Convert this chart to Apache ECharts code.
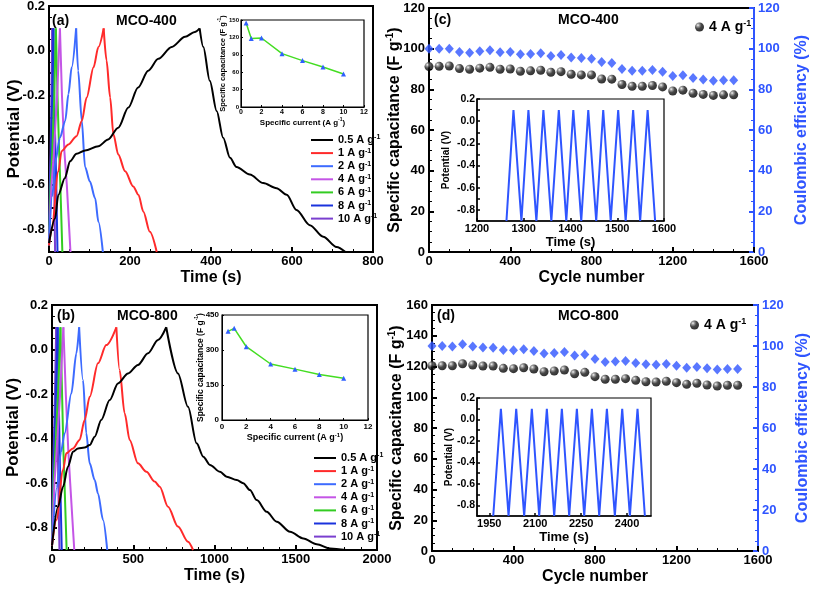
<!DOCTYPE html>
<html><head><meta charset="utf-8">
<script src="https://cdn.jsdelivr.net/npm/echarts@6/dist/echarts.min.js"></script>
<style>html,body{margin:0;padding:0;background:#fff}#c{width:813px;height:591px}</style>
</head><body><div id="c"></div>
<script>
// ================= DATA =================
const rateLabels = ['0.5', '1', '2', '4', '6', '8', '10'];
// Panel (a) MCO-400 galvanostatic charge/discharge curves (time s, potential V)
const a05_t = [0, 15, 23, 39, 52, 68, 89, 122, 146, 171, 196, 220, 245, 270, 303, 336, 360, 372, 381, 397, 414, 430, 447, 463, 496, 529, 562, 587, 611, 644, 677, 710, 732];
const a05_v = [-0.86, -0.75, -0.645, -0.57, -0.494, -0.461, -0.446, -0.427, -0.397, -0.344, -0.254, -0.164, -0.089, -0.036, 0.017, 0.062, 0.084, 0.1, 0.017, -0.134, -0.269, -0.389, -0.479, -0.52, -0.554, -0.592, -0.615, -0.644, -0.712, -0.78, -0.832, -0.878, -0.9];
const a1_t = [0, 7, 23, 31, 48, 68, 81, 93, 110, 122, 135, 142, 151, 159, 171, 188, 208, 221, 233, 249, 266];
const a1_v = [-0.87, -0.795, -0.54, -0.449, -0.419, -0.382, -0.314, -0.209, -0.074, 0.017, 0.1, -0.043, -0.209, -0.374, -0.464, -0.539, -0.607, -0.645, -0.72, -0.81, -0.9];
const a2_t = [0, 8, 16, 27, 40, 48, 56, 67, 72, 81, 89, 101, 114, 122, 133];
const a2_v = [-0.86, -0.65, -0.49, -0.389, -0.314, -0.194, -0.074, 0.1, -0.089, -0.314, -0.52, -0.585, -0.66, -0.765, -0.9];
const a4_t = [0, 6, 12, 20, 27, 32, 38, 44, 53];
const a6_t = [0, 4, 8, 13, 17, 21, 25, 28, 33];
const a8_t = [0, 3, 5, 8, 11, 13, 16, 18, 21];
const a10_t = [0, 2, 4, 6, 8, 10, 12, 13, 15];
const fast_v = [-0.87, -0.6, -0.46, -0.2, 0.1, -0.2, -0.45, -0.6, -0.9];

// Panel (b) MCO-800
const b05_t = [0, 37, 68, 98, 129, 160, 201, 232, 263, 303, 355, 406, 468, 529, 591, 652, 703, 775, 837, 890, 931, 972, 1034, 1075, 1137, 1177, 1218, 1260, 1321, 1383, 1465, 1547, 1629, 1711, 1810];
const b05_v = [-0.88, -0.706, -0.616, -0.526, -0.459, -0.444, -0.44, -0.429, -0.391, -0.316, -0.227, -0.152, -0.107, -0.069, -0.017, 0.043, 0.1, -0.107, -0.257, -0.421, -0.481, -0.518, -0.549, -0.571, -0.586, -0.6, -0.631, -0.676, -0.728, -0.773, -0.818, -0.848, -0.874, -0.893, -0.9];
const b1_t = [0, 27, 68, 88, 129, 170, 201, 232, 283, 334, 396, 416, 447, 478, 529, 581, 632, 663, 714, 775, 837, 868];
const b1_v = [-0.88, -0.765, -0.541, -0.466, -0.444, -0.406, -0.316, -0.212, -0.062, 0.02, 0.1, -0.092, -0.286, -0.406, -0.511, -0.549, -0.593, -0.616, -0.706, -0.795, -0.863, -0.9];
const b2_t = [0, 30, 55, 78, 119, 150, 167, 191, 211, 232, 263, 283, 314, 340];
const b2_v = [-0.88, -0.62, -0.46, -0.376, -0.197, -0.017, 0.1, -0.137, -0.376, -0.511, -0.586, -0.646, -0.765, -0.9];
const b4_t = [0, 15, 28, 50, 70, 85, 100, 112, 137];
const b6_t = [0, 10, 20, 37, 52, 62, 70, 77, 90];
const b8_t = [0, 7, 13, 24, 35, 41, 47, 51, 60];
const b10_t = [0, 5, 10, 18, 26, 31, 36, 39, 46];
const fastb_v = [-0.88, -0.6, -0.46, -0.2, 0.1, -0.2, -0.45, -0.6, -0.9];

// Insets: specific capacitance vs specific current
const currents = [0.5, 1, 2, 4, 6, 8, 10];
const capA = [145, 118, 119, 92, 80, 69, 57];
const capB = [380, 393, 314, 240, 218, 195, 179];

// Cycling (c) and (d)
const cycles = [0, 50, 100, 150, 200, 250, 300, 350, 400, 450, 500, 550, 600, 650, 700, 750, 800, 850, 900, 950, 1000, 1050, 1100, 1150, 1200, 1250, 1300, 1350, 1400, 1450, 1500];
const capC = [91.2, 91.3, 91.5, 90.2, 89.9, 90.4, 90.8, 89.9, 90.0, 88.9, 89.1, 89.4, 88.4, 88.7, 87.4, 87.1, 87.1, 85.1, 85.0, 82.4, 81.5, 81.5, 81.9, 81.2, 79.2, 79.6, 78.1, 77.5, 77.0, 77.3, 77.3];
const ceC = [100, 100, 100, 98.4, 98.0, 98.7, 99.2, 98.2, 98.4, 97.2, 97.4, 97.7, 96.4, 96.9, 95.6, 95.4, 95.1, 93.5, 93.0, 90.0, 89.1, 89.1, 89.5, 88.7, 86.6, 86.9, 85.6, 84.8, 84.2, 84.5, 84.5];
const capD = [120.5, 120.5, 120.5, 121.8, 121.0, 120.3, 120.3, 118.8, 118.6, 119.2, 118.4, 116.6, 117.1, 117.7, 115.3, 116.2, 113.4, 111.7, 111.7, 112.1, 111.0, 110.1, 109.9, 110.4, 109.5, 108.4, 109.1, 108.0, 107.3, 107.8, 107.8];
const ceD = [100, 100, 99.7, 100.8, 99.8, 99.3, 99.2, 98.0, 97.9, 98.4, 97.6, 96.3, 96.6, 97.1, 95.4, 95.9, 93.7, 92.2, 92.4, 92.7, 91.7, 91.1, 90.9, 91.2, 90.4, 89.4, 89.8, 89.1, 88.5, 88.8, 88.8];

// Inset GCD cycles
const cin_t = [1263, 1278, 1295, 1310, 1327, 1342, 1359, 1375, 1391, 1406, 1423, 1438, 1455, 1470, 1486, 1502, 1518, 1534, 1549, 1565, 1581];
const din_t = [1963, 1988, 2013, 2038, 2064, 2089, 2113, 2138, 2162, 2187, 2211, 2236, 2260, 2285, 2309, 2334, 2360, 2384, 2409, 2434, 2458];
const zig_v = [-0.9, 0.1, -0.9, 0.1, -0.9, 0.1, -0.9, 0.1, -0.9, 0.1, -0.9, 0.1, -0.9, 0.1, -0.9, 0.1, -0.9, 0.1, -0.9, 0.1, -0.9];

const dTicks = [1950, 2100, 2250, 2400];

// ================= STYLE =================
const FF = 'Liberation Sans';
const BLUE = '#2f55ff';
const COLORS = ['#000000', '#ff2a2a', '#3d6bff', '#c455e6', '#33cc22', '#1a33dd', '#7a3fcf'];
function tx(size, color) { return { fontFamily: FF, fontWeight: 'bold', fontSize: size, color: color || '#000' }; }
function supRich(size, color) {
  return { m: Object.assign(tx(size, color), { lineHeight: size + 3 }),
           s: Object.assign(tx(Math.round(size * 0.62), color), { verticalAlign: 'top', lineHeight: Math.round(size * 0.62) }) };
}
const zip = (a, b) => a.map((v, i) => [v, b[i]]);
const gcdFmt = v => (Math.round(v * 10) % 2 === 0 ? v.toFixed(1) : '');
const plainFmt = v => String(Math.round(v * 1000) / 1000);

function axis(o) {
  const color = o.color || '#000';
  const a = {
    type: 'value', gridIndex: o.grid, min: o.min, max: o.max, position: o.pos,
    axisLine: { show: true, onZero: false, lineStyle: { color, width: o.lw || 2 } },
    axisTick: { show: true, inside: true, length: o.tl || 5, lineStyle: { color, width: o.lw || 2 } },
    minorTick: { show: !!o.minor, splitNumber: o.minor || 2, length: (o.tl || 5) * 0.6, lineStyle: { color, width: 1 } },
    axisLabel: Object.assign(tx(o.fs, color), { margin: o.margin || 4, formatter: o.fmt || plainFmt, showMinLabel: true, showMaxLabel: true }),
    splitLine: { show: false },
    name: o.name || '', nameLocation: 'middle', nameGap: o.gap || 20, nameMoveOverlap: false,
    nameRotate: o.rot,
    nameTextStyle: o.rich ? Object.assign(tx(o.nfs, color), { rich: supRich(o.nfs, color) }) : tx(o.nfs, color)
  };
  if (o.interval) a.interval = o.interval;
  if (o.ticks) { a.axisLabel.customValues = o.ticks; a.axisTick.customValues = o.ticks; }
  return a;
}
const capName = '{m|Specific capacitance (F g}{s|-1}{m|)}';
const curName = '{m|Specific current (A g}{s|-1}{m|)}';

// ================= LAYOUT =================
const grids = [
  { left: 49, top: 6, width: 324, height: 246 },   // 0 a main
  { left: 241, top: 20, width: 123, height: 87 },  // 1 a inset
  { left: 429, top: 8, width: 325, height: 244 },  // 2 c main
  { left: 477, top: 99, width: 187, height: 122 }, // 3 c inset
  { left: 52, top: 305, width: 325, height: 245 }, // 4 b main
  { left: 222, top: 315, width: 146, height: 105 },// 5 b inset
  { left: 432, top: 305, width: 326, height: 246 },// 6 d main
  { left: 477, top: 398, width: 174, height: 118 } // 7 d inset
].map((g, i) => Object.assign(g, { show: true, borderColor: '#000', borderWidth: (i % 2 === 0) ? 2 : 1.2, backgroundColor: '#fff', containLabel: false, outerBoundsMode: 'none' }));

const xAxes = [
  axis({ grid: 0, min: 0, max: 800, interval: 200, minor: 4, fs: 13, margin: 3, name: 'Time (s)', nfs: 16, gap: 18 }),
  axis({ grid: 1, min: 0, max: 12, interval: 2, fs: 7, lw: 1, tl: 2, margin: 2, name: curName, rich: true, nfs: 8, gap: 10 }),
  axis({ grid: 2, min: 0, max: 1600, interval: 400, minor: 4, fs: 13, margin: 3, name: 'Cycle number', nfs: 16, gap: 18 }),
  axis({ grid: 3, min: 1200, max: 1600, interval: 100, fs: 11, lw: 1.5, tl: 3, margin: 2, name: 'Time (s)', nfs: 13, gap: 15 }),
  axis({ grid: 4, min: 0, max: 2000, interval: 500, minor: 5, fs: 13, margin: 3, name: 'Time (s)', nfs: 16, gap: 18 }),
  axis({ grid: 5, min: 0, max: 12, interval: 2, fs: 8, lw: 1, tl: 2, margin: 3, name: curName, rich: true, nfs: 9, gap: 12 }),
  axis({ grid: 6, min: 0, max: 1600, interval: 400, minor: 4, fs: 13, margin: 3, name: 'Cycle number', nfs: 16, gap: 18 }),
  axis({ grid: 7, min: 1910, max: 2478, ticks: dTicks, fs: 11, lw: 1.5, tl: 3, margin: 2, name: 'Time (s)', nfs: 13, gap: 15 })
];
const yAxes = [
  axis({ grid: 0, min: -0.9, max: 0.2, interval: 0.1, minor: 2, fs: 13, fmt: gcdFmt, margin: 4, name: 'Potential (V)', nfs: 17, gap: 26, rot: 90 }),
  axis({ grid: 1, min: 0, max: 150, interval: 30, fs: 6, lw: 1, tl: 2, margin: 2, name: capName, rich: true, nfs: 7.5, gap: 13, rot: 90 }),
  axis({ grid: 2, min: 0, max: 120, interval: 20, minor: 4, fs: 13, margin: 4, name: capName, rich: true, nfs: 16, gap: 25, rot: 90 }),
  axis({ grid: 2, min: 0, max: 120, interval: 20, minor: 4, fs: 13, margin: 4, pos: 'right', color: BLUE, name: 'Coulombic efficiency (%)', nfs: 16, gap: 40, rot: 90 }),
  axis({ grid: 3, min: -0.9, max: 0.2, interval: 0.1, fs: 10.5, lw: 1.5, tl: 3, margin: 2, fmt: gcdFmt, name: 'Potential (V)', nfs: 10, gap: 26, rot: 90 }),
  axis({ grid: 4, min: -0.9, max: 0.2, interval: 0.1, minor: 2, fs: 13, fmt: gcdFmt, margin: 4, name: 'Potential (V)', nfs: 17, gap: 30, rot: 90 }),
  axis({ grid: 5, min: 0, max: 450, interval: 150, fs: 8, lw: 1, tl: 2, margin: 3, name: capName, rich: true, nfs: 8.5, gap: 16, rot: 90 }),
  axis({ grid: 6, min: 0, max: 160, interval: 20, minor: 4, fs: 13, margin: 4, name: capName, rich: true, nfs: 16, gap: 26, rot: 90 }),
  axis({ grid: 6, min: 0, max: 120, interval: 20, minor: 4, fs: 13, margin: 4, pos: 'right', color: BLUE, name: 'Coulombic efficiency (%)', nfs: 16, gap: 37, rot: 90 }),
  axis({ grid: 7, min: -0.9, max: 0.2, interval: 0.1, fs: 10.5, lw: 1.5, tl: 3, margin: 2, fmt: gcdFmt, name: 'Potential (V)', nfs: 10, gap: 23, rot: 90 })
];

// ================= SERIES =================
const series = [];
function gcd(name, t, v, color, xi, yi, smooth) {
  const pts = zip(t, v);
  let pk = 0; v.forEach((y, i) => { if (y > v[pk]) pk = i; });
  [pts.slice(0, pk + 1), pts.slice(pk)].forEach(d => series.push({
    type: 'line', name, xAxisIndex: xi, yAxisIndex: yi, data: d, showSymbol: false, symbol: 'none',
    smooth: smooth ? 0.3 : false, smoothMonotone: 'x', clip: true, z: 3,
    lineStyle: { color, width: 2 }, itemStyle: { color }
  }));
}
const aT = [a05_t, a1_t, a2_t, a4_t, a6_t, a8_t, a10_t];
const aV = [a05_v, a1_v, a2_v, fast_v, fast_v, fast_v, fast_v];
const bT = [b05_t, b1_t, b2_t, b4_t, b6_t, b8_t, b10_t];
const bV = [b05_v, b1_v, b2_v, fastb_v, fastb_v, fastb_v, fastb_v];
for (let i = 6; i >= 0; i--) {
  gcd('a' + rateLabels[i], aT[i], aV[i], COLORS[i], 0, 0, i < 3);
  gcd('b' + rateLabels[i], bT[i], bV[i], COLORS[i], 4, 5, i < 3);
}
function capSeries(xi, yi, y) {
  series.push({ type: 'line', xAxisIndex: xi, yAxisIndex: yi, data: zip(currents, y), symbol: 'triangle', symbolSize: 5,
    lineStyle: { color: '#44dd22', width: 1.5 }, itemStyle: { color: '#3060ff' }, z: 5 });
}
capSeries(1, 1, capA);
capSeries(5, 6, capB);

const ballColor = { type: 'radial', x: 0.33, y: 0.3, r: 0.7,
  colorStops: [{ offset: 0, color: '#f4f4f4' }, { offset: 0.22, color: '#8a8a8a' }, { offset: 0.55, color: '#1a1a1a' }, { offset: 1, color: '#000' }] };
function cycSeries(name, xi, yl, yr, cap, ce) {
  series.push({ type: 'scatter', name: name, xAxisIndex: xi, yAxisIndex: yr, data: zip(cycles, ce), symbol: 'diamond', symbolSize: [9, 10],
    itemStyle: { color: BLUE }, z: 4 });
  series.push({ type: 'scatter', name: name + 'cap', xAxisIndex: xi, yAxisIndex: yl, data: zip(cycles, cap), symbol: 'circle', symbolSize: 9,
    itemStyle: { color: ballColor }, z: 4 });
}
cycSeries('c', 2, 2, 3, capC, ceC);
cycSeries('d', 6, 7, 8, capD, ceD);
series.push({ type: 'line', xAxisIndex: 3, yAxisIndex: 4, data: zip(cin_t, zig_v), symbol: 'none', lineStyle: { color: BLUE, width: 2 }, z: 5 });
series.push({ type: 'line', xAxisIndex: 7, yAxisIndex: 9, data: zip(din_t, zig_v), symbol: 'none', lineStyle: { color: BLUE, width: 2 }, z: 5 });

// ================= LEGENDS & TITLES =================
const legRich = { n: Object.assign(tx(11), { lineHeight: 12 }), s: Object.assign(tx(7), { verticalAlign: 'top', lineHeight: 7 }) };
function gcdLegend(prefix, left, top) {
  return { orient: 'vertical', left, top, itemGap: 1.6, itemWidth: 22, itemHeight: 2, icon: 'rect',
    data: rateLabels.map(r => prefix + r), selectedMode: false,
    formatter: n => '{n|' + n.slice(1) + ' A g}{s|-1}', textStyle: { rich: legRich } };
}
const cycRich = { n: Object.assign(tx(14), { lineHeight: 16 }), s: Object.assign(tx(9), { verticalAlign: 'top', lineHeight: 9 }) };
function cycLegend(name, left, top) {
  return { left, top, itemWidth: 9, itemHeight: 9, icon: 'circle', itemGap: 4, selectedMode: false,
    data: [name + 'cap'], formatter: () => '{n|4 A g}{s|-1}', textStyle: { rich: cycRich } };
}
const T = (text, left, top) => ({ text, left, top, textStyle: tx(14), padding: 0 });

const chart = echarts.init(document.getElementById('c'), null, { renderer: 'canvas' });
chart.setOption({
  animation: false,
  backgroundColor: '#fff',
  title: [T('(a)', 52, 14), T('MCO-400', 116, 14), T('(c)', 434, 13), T('MCO-400', 558, 13),
          T('(b)', 57, 309), T('MCO-800', 117, 309), T('(d)', 437, 309), T('MCO-800', 558, 309)],
  legend: [gcdLegend('a', 306, 129), gcdLegend('b', 309, 447), cycLegend('c', 690, 14), cycLegend('d', 685, 312)],
  grid: grids, xAxis: xAxes, yAxis: yAxes, series
});
</script></body></html>
